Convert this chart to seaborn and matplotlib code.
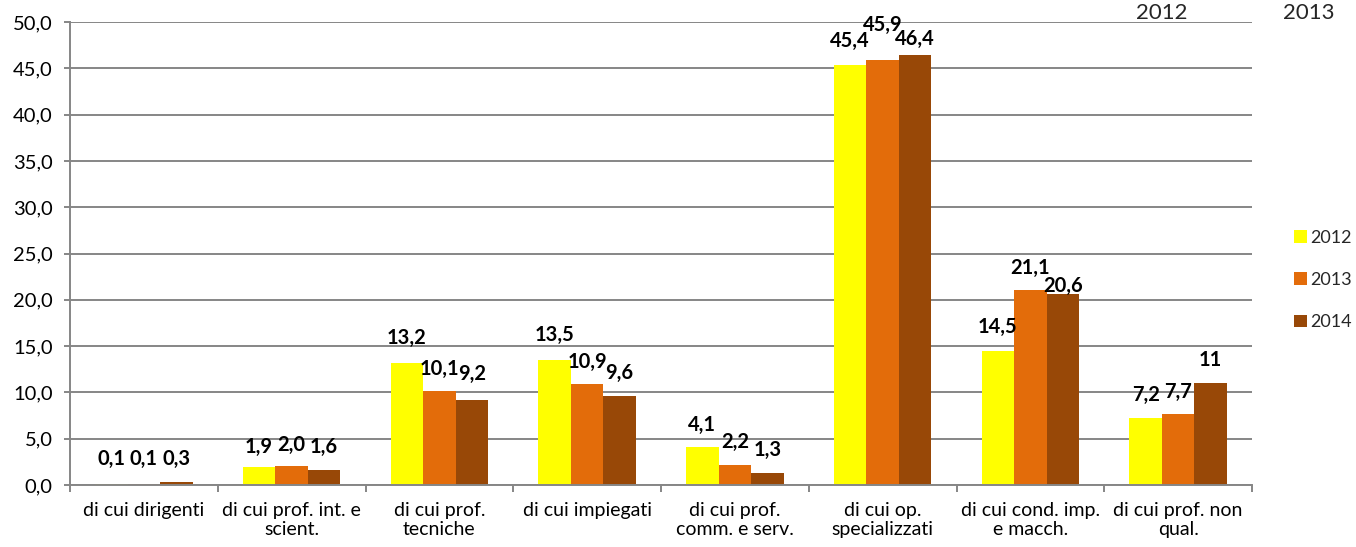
import matplotlib
matplotlib.use("Agg")
import matplotlib.pyplot as plt
from matplotlib.patches import Patch
from matplotlib.ticker import FixedLocator, FuncFormatter
import pandas as pd
import seaborn as sns

# Occupational groups (x axis) and yearly shares (%)
categories = [
    "di cui dirigenti",
    "di cui prof. int. e\nscient.",
    "di cui prof.\ntecniche",
    "di cui impiegati",
    "di cui prof.\ncomm. e serv.",
    "di cui op.\nspecializzati",
    "di cui cond. imp.\ne macch.",
    "di cui prof. non\nqual.",
]
years = ["2012", "2013", "2014"]
values_2012 = [0.1, 1.9, 13.2, 13.5, 4.1, 45.4, 14.5, 7.2]
values_2013 = [0.1, 2.0, 10.1, 10.9, 2.2, 45.9, 21.1, 7.7]
values_2014 = [0.3, 1.6, 9.2, 9.6, 1.3, 46.4, 20.6, 11]
colors = ["#FFFF00", "#E36C0A", "#984807"]

# vertical gap (px) between each bar top and the centre of its value label
label_gap_px = {
    "2012": [25, 20, 25, 25, 22, 24, 24, 23],
    "2013": [25, 22, 23, 22, 23, 35, 22, 22],
    "2014": [23, 23, 26, 23, 23, 16, 8, 23],
}

series = {"2012": values_2012, "2013": values_2013, "2014": values_2014}
df = pd.DataFrame(
    [(c, y, v) for y in years for c, v in zip(categories, series[y])],
    columns=["categoria", "anno", "valore"],
)

sns.set_theme(style="white")
plt.rcParams["font.family"] = ["Lato", "DejaVu Sans"]

DPI = 100
fig = plt.figure(figsize=(13.56, 5.47), dpi=DPI)
ax = fig.add_axes([70 / 1356, 1 - 485 / 547, (1252 - 70) / 1356, (485 - 22) / 547])

sns.barplot(
    data=df, x="categoria", y="valore", hue="anno", order=categories,
    hue_order=years, palette=colors, width=0.66, gap=0, linewidth=0,
    saturation=1, ax=ax, legend=False,
)

grid_col = "#868686"
ax.set_ylim(0, 50)
ax.set_xlim(-0.5, len(categories) - 0.5)
ax.yaxis.set_major_locator(FixedLocator([i * 5 for i in range(11)]))
ax.yaxis.set_major_formatter(FuncFormatter(lambda v, _: f"{v:.1f}".replace(".", ",")))
ax.grid(axis="y", color=grid_col, linewidth=1.4)
ax.set_axisbelow(True)
ax.set_xlabel("")
ax.set_ylabel("")
for s in ["top", "right"]:
    ax.spines[s].set_visible(False)
for s in ["left", "bottom"]:
    ax.spines[s].set_color(grid_col)
    ax.spines[s].set_linewidth(1.4)

ax.tick_params(axis="y", length=4.5, width=1.4, color=grid_col, labelsize=14.5,
               labelcolor="black", pad=8, left=True)
ax.tick_params(axis="x", which="major", length=0, labelsize=14, labelcolor="black", pad=12)
ax.set_xticks(range(len(categories)))
ax.set_xticklabels(categories, linespacing=1.2)
ax.xaxis.set_minor_locator(FixedLocator([i - 0.5 for i in range(len(categories) + 1)]))
ax.tick_params(axis="x", which="minor", length=5, width=1.4, color=grid_col, bottom=True)


def fmt(v):
    return str(v) if isinstance(v, int) else f"{v:.1f}".replace(".", ",")


# value labels above each bar
for cont, year in zip(ax.containers, years):
    for bar, v, gap in zip(cont, series[year], label_gap_px[year]):
        ax.annotate(
            fmt(v), (bar.get_x() + bar.get_width() / 2, bar.get_height()),
            xytext=(0, gap * 72 / DPI), textcoords="offset points",
            ha="center", va="center", fontsize=14.5, fontweight="bold", color="black",
        )

handles = [Patch(facecolor=c, edgecolor="none") for c in colors]
fig.legend(
    handles, years, loc="center left", bbox_to_anchor=(1294 / 1356, 1 - 280 / 547),
    frameon=False, fontsize=13, handlelength=0.7, handleheight=0.7,
    handletextpad=0.2, labelspacing=1.45, borderpad=0, borderaxespad=0,
)

# year headings at the top right
fig.text(1162 / 1356, 1 - 13 / 547, "2012", ha="center", va="center", fontsize=16)
fig.text(1309 / 1356, 1 - 13 / 547, "2013", ha="center", va="center", fontsize=16)

fig.savefig("out.png", dpi=DPI)
